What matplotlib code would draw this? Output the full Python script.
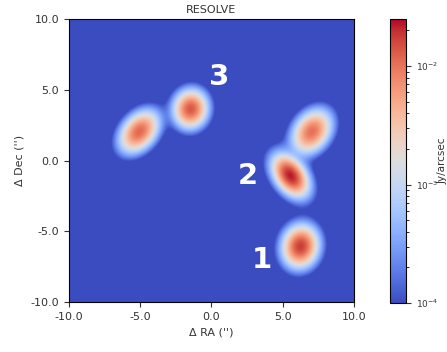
import numpy as np
import matplotlib
matplotlib.use("Agg")
import matplotlib.pyplot as plt
from matplotlib.colors import LogNorm

# elliptical components of the reconstructed map (core + extended halo)
ra = [-5.1, -1.5, 7.0, 5.5, 6.2]
dec = [2.0, 3.6, 2.0, -1.1, -6.1]
peak = [1.0e-2, 1.2e-2, 9.0e-3, 2.1e-2, 1.6e-2]
sig_major = [0.62, 0.5, 0.62, 0.6, 0.55]
sig_minor = [0.42, 0.44, 0.45, 0.38, 0.46]
pa_deg = [50, 80, 55, -55, 78]
halo_frac = [0.14, 0.13, 0.15, 0.08, 0.1]
halo_scale = [1.65, 1.65, 1.65, 1.75, 1.7]

label_text = ["1", "2", "3"]
label_x = [3.55, 2.55, 0.55]
label_y = [-7.0, -1.1, 5.9]

n = 400
g = np.linspace(-10, 10, n)
X, Y = np.meshgrid(g, g)
img = np.zeros_like(X)
for x0, y0, a, sa, sb, pa, hf, hs in zip(ra, dec, peak, sig_major, sig_minor,
                                          pa_deg, halo_frac, halo_scale):
    t = np.deg2rad(pa)
    u = (X - x0) * np.cos(t) + (Y - y0) * np.sin(t)
    v = -(X - x0) * np.sin(t) + (Y - y0) * np.cos(t)
    r2 = (u / sa) ** 2 + (v / sb) ** 2
    img += a * np.exp(-0.5 * r2) + a * hf * np.exp(-0.5 * r2 / hs ** 2)
img = np.clip(img, 1e-4, None)

fig = plt.figure(figsize=(4.47, 3.52), dpi=100)
ax = fig.add_axes([0.154, 0.142, 0.638, 0.804])
cax = fig.add_axes([0.872, 0.139, 0.036, 0.807])

im = ax.imshow(img, origin="lower", extent=[-10, 10, -10, 10], cmap="coolwarm",
               norm=LogNorm(vmin=1e-4, vmax=2.5e-2), interpolation="bilinear",
               aspect="auto")
ax.set_xlim(-10, 10)
ax.set_ylim(-10, 10)
ticks = [-10, -5, 0, 5, 10]
ax.set_xticks(ticks)
ax.set_yticks(ticks)
ax.set_xticklabels(["%.1f" % t for t in ticks])
ax.set_yticklabels(["%.1f" % t for t in ticks])
ax.tick_params(labelsize=8, colors="#333333", labelcolor="#333333")
ax.set_xlabel("Δ RA ('')", fontsize=8, color="#333333")
ax.set_ylabel("Δ Dec ('')", fontsize=8, color="#333333")
ax.set_title("RESOLVE", fontsize=8, color="#333333", pad=4)

for s, x, y in zip(label_text, label_x, label_y):
    ax.text(x, y, s, color="white", fontsize=21, fontweight="bold",
            ha="center", va="center")

cb = fig.colorbar(im, cax=cax)
cb.ax.tick_params(labelsize=6.5, colors="#333333")
cb.set_label("Jy/arcsec", fontsize=7.5, color="#333333")
cax.yaxis.set_label_coords(3.0, 0.5)

fig.savefig("out.png", dpi=100)
